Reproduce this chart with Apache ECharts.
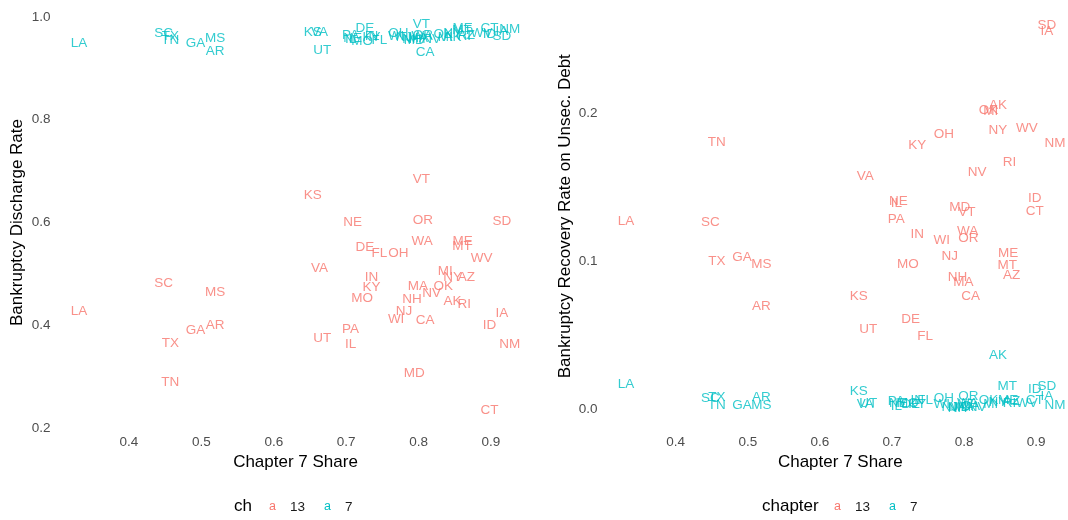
<!DOCTYPE html>
<html>
<head>
<meta charset="utf-8">
<script src="https://cdn.jsdelivr.net/npm/echarts/dist/echarts.min.js"></script>
<style>
  html, body { margin: 0; padding: 0; background: #ffffff; }
  #chart { width: 1068px; height: 520px; }
</style>
</head>
<body>
<div id="chart"></div>
<script>
// ---- data ----
const states = ['VT','KS','NE','OR','SD','WA','ME','MT','DE','FL','OH','WV','VA','IN','MI','NY','AZ','KY','MA','OK','NV','MO','NH','AK','RI','NJ','IA','WI','CA','PA','ID','UT','IL','NM','MD','CT','LA','SC','MS','AR','GA','TX','TN'];
const share = [0.804,0.654,0.709,0.806,0.915,0.805,0.861,0.860,0.726,0.746,0.772,0.887,0.663,0.735,0.837,0.847,0.866,0.735,0.799,0.834,0.818,0.722,0.791,0.847,0.863,0.780,0.915,0.769,0.809,0.706,0.898,0.667,0.706,0.926,0.794,0.898,0.331,0.448,0.519,0.519,0.492,0.457,0.457];
const discharge13 = [0.687,0.656,0.603,0.607,0.606,0.567,0.567,0.557,0.555,0.543,0.543,0.533,0.514,0.497,0.507,0.496,0.497,0.476,0.478,0.478,0.465,0.456,0.454,0.450,0.443,0.431,0.427,0.414,0.412,0.396,0.402,0.377,0.366,0.366,0.310,0.238,0.431,0.484,0.468,0.403,0.394,0.368,0.291];
const discharge7 = [0.988,0.973,0.962,0.968,0.966,0.966,0.981,0.977,0.981,0.958,0.971,0.971,0.973,0.966,0.963,0.972,0.967,0.964,0.962,0.970,0.960,0.955,0.960,0.964,0.965,0.963,0.975,0.965,0.935,0.968,0.970,0.938,0.960,0.979,0.957,0.981,0.952,0.971,0.962,0.936,0.952,0.965,0.957];
const recovery13 = [0.134,0.0774,0.1414,0.1167,0.260,0.1208,0.1062,0.0982,0.0617,0.0503,0.1868,0.1907,0.158,0.1193,0.202,0.1895,0.0914,0.1793,0.0866,0.203,0.161,0.0986,0.0902,0.206,0.1678,0.1044,0.256,0.1147,0.077,0.129,0.1436,0.0546,0.1398,0.1804,0.1375,0.1345,0.1277,0.1272,0.0991,0.0701,0.1032,0.1005,0.1809];
const recovery7 = [0.004,0.0128,0.005,0.0095,0.0162,0.005,0.007,0.0162,0.004,0.0072,0.0083,0.005,0.0045,0.007,0.0045,0.0055,0.0065,0.004,0.002,0.007,0.002,0.005,0.0015,0.037,0.005,0.002,0.0095,0.004,0.003,0.006,0.014,0.005,0.003,0.0038,0.002,0.0072,0.018,0.0085,0.0038,0.0088,0.0038,0.0088,0.0032];
const xTickLabels = ['0.4','0.5','0.6','0.7','0.8','0.9'];
const leftYTickLabels = ['0.2','0.4','0.6','0.8','1.0'];
const rightYTickLabels = ['0.0','0.1','0.2'];
const chapters = ['13','7'];

// ---- styling ----
const RED = '#F8766D', TEAL = '#00BFC4';
const FONT = 'Liberation Sans, Arial, sans-serif';
const TITLE_SIZE = 17, TICK_SIZE = 13.5, MARK_SIZE = 13.5;

function pts(ys) {
  return states.map((s, i) => ({ name: s, value: [share[i], ys[i]] }));
}
function fmtFrom(list, digits) {
  return function (v) {
    const s = (Math.round(v * 1000) / 1000).toFixed(digits);
    return list.indexOf(s) >= 0 && Math.abs(v - parseFloat(s)) < 1e-6 ? s : '';
  };
}
function textSeries(name, color, ys, idx) {
  return {
    name: name, type: 'scatter', xAxisIndex: idx, yAxisIndex: idx,
    data: pts(ys), symbolSize: 0, itemStyle: { color: color },
    clip: false,
    label: {
      show: true, position: 'inside', formatter: '{b}', color: color,
      fontFamily: FONT, fontSize: MARK_SIZE, align: 'center', verticalAlign: 'middle',
      offset: [0, 1.5]
    },
    emphasis: { disabled: true }
  };
}
function xAxisCfg(idx, max, margin, gap, pad) {
  return {
    type: 'value', gridIndex: idx, min: 0.3, max: max, interval: 0.1,
    name: 'Chapter 7 Share', nameLocation: 'middle', nameGap: gap,
    nameTextStyle: { fontFamily: FONT, fontSize: TITLE_SIZE, color: '#000000', padding: pad },
    axisLine: { show: false }, axisTick: { show: false }, splitLine: { show: false },
    axisLabel: { formatter: fmtFrom(xTickLabels, 1), margin: margin, fontFamily: FONT, fontSize: TICK_SIZE, color: '#4D4D4D' }
  };
}
function legendFmt(n) {
  return (n === '13' ? '{r|a}' : '{t|a}') + '{n|' + n + '}';
}

const option = {
  backgroundColor: '#ffffff',
  animation: false,
  textStyle: { fontFamily: FONT },
  grid: [
    { left: 56.6, top: 17, width: 477.8, height: 411 },
    { left: 603.6, top: 9.4, width: 463.4, height: 399.6 }
  ],
  xAxis: [ xAxisCfg(0, 0.96, 7, 24, [0, 0, 0, 0]), xAxisCfg(1, 0.94, 26, 43, [0, 0, 0, 12]) ],
  yAxis: [
    {
      type: 'value', gridIndex: 0, min: 0.2, max: 1.0, interval: 0.2,
      name: 'Bankruptcy Discharge Rate', nameLocation: 'middle', nameGap: 31,
      nameTextStyle: { fontFamily: FONT, fontSize: TITLE_SIZE, color: '#000000' },
      axisLine: { show: false }, axisTick: { show: false }, splitLine: { show: false },
      axisLabel: { formatter: fmtFrom(leftYTickLabels, 1), margin: 6, fontFamily: FONT, fontSize: TICK_SIZE, color: '#4D4D4D' }
    },
    {
      type: 'value', gridIndex: 1, min: 0, max: 0.27, interval: 0.1,
      name: 'Bankruptcy Recovery Rate on Unsec. Debt', nameLocation: 'middle', nameGap: 30,
      nameTextStyle: { fontFamily: FONT, fontSize: TITLE_SIZE, color: '#000000', padding: [0, 14, 0, 0] },
      axisLine: { show: false }, axisTick: { show: false }, splitLine: { show: false },
      axisLabel: { formatter: fmtFrom(rightYTickLabels, 1), margin: 6, fontFamily: FONT, fontSize: TICK_SIZE, color: '#4D4D4D' }
    }
  ],
  title: [
    { text: 'ch', left: 234, top: 498, padding: 0, textStyle: { fontFamily: FONT, fontSize: TITLE_SIZE, fontWeight: 'normal', color: '#000000' } },
    { text: 'chapter', left: 762, top: 498, padding: 0, textStyle: { fontFamily: FONT, fontSize: TITLE_SIZE, fontWeight: 'normal', color: '#000000' } }
  ],
  legend: [0, 1].map(function (k) {
    return {
      data: chapters, left: k === 0 ? 264 : 829, top: 500, padding: 0,
      icon: 'none', itemWidth: 0, itemHeight: 10, itemGap: 14, selectedMode: false,
      formatter: legendFmt,
      textStyle: {
        fontFamily: FONT, fontSize: TICK_SIZE, color: '#1A1A1A',
        rich: {
          r: { color: RED, fontSize: 12.5, fontFamily: FONT, padding: [0, 14, 0, 0] },
          t: { color: TEAL, fontSize: 12.5, fontFamily: FONT, padding: [0, 14, 0, 0] },
          n: { color: '#1A1A1A', fontSize: TICK_SIZE, fontFamily: FONT }
        }
      }
    };
  }),
  series: [
    textSeries('13', RED, discharge13, 0),
    textSeries('7', TEAL, discharge7, 0),
    textSeries('13', RED, recovery13, 1),
    textSeries('7', TEAL, recovery7, 1)
  ]
};

const chart = echarts.init(document.getElementById('chart'), null, { renderer: 'canvas' });
chart.setOption(option);
</script>
</body>
</html>
